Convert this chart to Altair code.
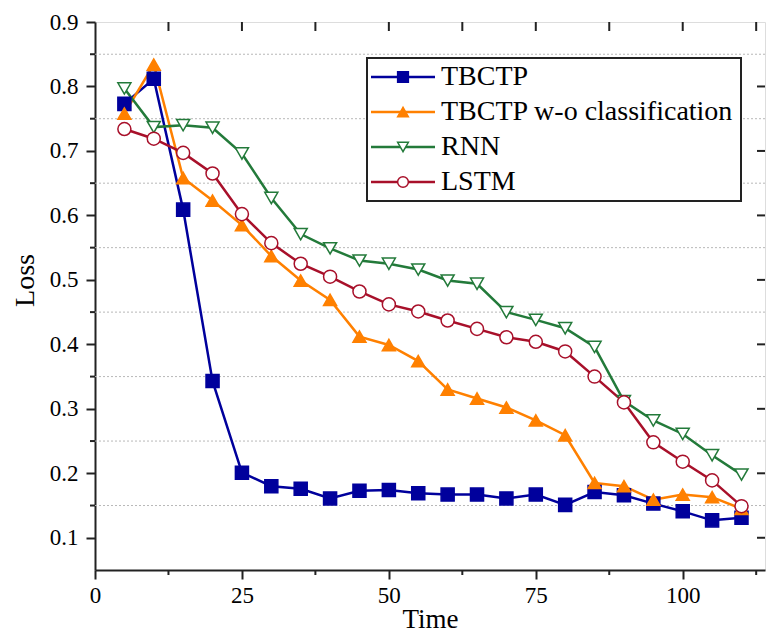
import altair as alt
import pandas as pd

models = ["TBCTP", "TBCTP w-o classification", "RNN", "LSTM"]
time = [5, 10, 15, 20, 25, 30, 35, 40, 45, 50, 55, 60, 65, 70, 75, 80, 85, 90, 95, 100, 105, 110]
tbctp = [0.773, 0.812, 0.609, 0.343, 0.201, 0.180, 0.176, 0.161, 0.173, 0.174, 0.169, 0.167,
         0.167, 0.161, 0.167, 0.151, 0.171, 0.166, 0.153, 0.141, 0.127, 0.131]
tbctp_wo = [0.758, 0.834, 0.658, 0.623, 0.585, 0.537, 0.499, 0.469, 0.412, 0.399, 0.374, 0.330,
            0.316, 0.302, 0.282, 0.259, 0.185, 0.180, 0.159, 0.167, 0.163, 0.145]
rnn = [0.797, 0.737, 0.740, 0.736, 0.696, 0.627, 0.571, 0.549, 0.530, 0.525, 0.516, 0.499,
       0.494, 0.450, 0.438, 0.425, 0.396, 0.312, 0.282, 0.261, 0.228, 0.198]
lstm = [0.734, 0.719, 0.697, 0.665, 0.602, 0.557, 0.525, 0.505, 0.482, 0.462, 0.451, 0.437,
        0.424, 0.411, 0.404, 0.389, 0.350, 0.310, 0.248, 0.218, 0.189, 0.149]

x_major = [0, 25, 50, 75, 100]
x_minor = [12.5, 37.5, 62.5, 87.5, 112.5]
x_top = [12.5, 25, 37.5, 50, 62.5, 75, 87.5, 100, 112.5]
y_major = [0.1, 0.2, 0.3, 0.4, 0.5, 0.6, 0.7, 0.8, 0.9]
y_minor = [0.15, 0.25, 0.35, 0.45, 0.55, 0.65, 0.75, 0.85]

colors = ["#00009C", "#FF8000", "#237A3A", "#A8102A"]
fills = ["#00009C", "#FF8000", "#FFFFFF", "#FFFFFF"]
shapes = ["square", "triangle-up", "triangle-down", "circle"]

FONT = "Liberation Serif"
W, H = 670, 548

rows = []
for m, vals in zip(models, [tbctp, tbctp_wo, rnn, lstm]):
    for t, v in zip(time, vals):
        rows.append({"Time": t, "Loss": v, "model": m})
df = pd.DataFrame(rows)

xscale = alt.Scale(domain=[0, 114], nice=False, zero=False)
yscale = alt.Scale(domain=[0.05, 0.9], nice=False, zero=False)
xaxis = alt.Axis(values=x_major, tickSize=9, tickWidth=2, tickColor="#222",
                 domainColor="#222", domainWidth=2, grid=False,
                 labelFont=FONT, labelFontSize=23, labelColor="#000", labelPadding=5,
                 labelFlush=False,
                 titleFont=FONT, titleFontSize=27, titleFontWeight="normal",
                 titleColor="#000", titleY=57, titleBaseline="alphabetic")
yaxis = alt.Axis(values=y_major, tickSize=9, tickWidth=2, tickColor="#222",
                 domainColor="#222", domainWidth=2, grid=False, format=".1f",
                 labelFont=FONT, labelFontSize=23, labelColor="#000", labelPadding=8,
                 labelFlush=False,
                 titleFont=FONT, titleFontSize=28, titleFontWeight="normal",
                 titleColor="#000", titleX=-62, titleY=258, titleAngle=270,
                 titleAlign="center", titleBaseline="alphabetic")


def X(field):
    return alt.X(field, scale=xscale, axis=xaxis, title="Time")


def Y(field):
    return alt.Y(field, scale=yscale, axis=yaxis, title="Loss")


color = alt.Color("model:N", scale=alt.Scale(domain=models, range=colors), legend=None)
stroke = alt.Stroke("model:N", scale=alt.Scale(domain=models, range=colors), legend=None)
fill = alt.Fill("model:N", scale=alt.Scale(domain=models, range=fills), legend=None)
shape = alt.Shape("model:N", scale=alt.Scale(domain=models, range=shapes), legend=None)

lines = alt.Chart(df).mark_line(strokeWidth=2.5).encode(
    x=X("Time:Q"), y=Y("Loss:Q"), color=color)

points = alt.Chart(df).mark_point(size=170, strokeWidth=1.5, opacity=1, fillOpacity=1).encode(
    x=X("Time:Q"), y=Y("Loss:Q"), stroke=stroke, fill=fill, shape=shape)

grid = alt.Chart(pd.DataFrame({"g": y_minor})).mark_rule(
    color="#b8b8b8", strokeDash=[2, 2], strokeWidth=1
).encode(y=Y("g:Q"))

left_minor = alt.Chart(pd.DataFrame({"g": y_minor})).mark_rule(color="#222", strokeWidth=2).encode(
    y=Y("g:Q"), x=alt.value(-5), x2=alt.value(0))
right_ticks = alt.Chart(pd.DataFrame({"g": y_major[:-1]})).mark_rule(color="#222", strokeWidth=2).encode(
    y=Y("g:Q"), x=alt.value(W - 8), x2=alt.value(W))
bottom_minor = alt.Chart(pd.DataFrame({"t": x_minor})).mark_rule(color="#222", strokeWidth=2).encode(
    x=X("t:Q"), y=alt.value(H), y2=alt.value(H + 5))
top_ticks = alt.Chart(pd.DataFrame({"t": x_top})).mark_rule(color="#222", strokeWidth=2).encode(
    x=X("t:Q"), y=alt.value(0), y2=alt.value(9))

main = alt.layer(grid, left_minor, right_ticks, bottom_minor, top_ticks, lines, points)

# legend
leg_df = pd.DataFrame({"model": models})
leg_y = alt.Y("model:N", sort=models,
              scale=alt.Scale(type="point", domain=models, range=[55, 160], padding=0),
              axis=None)
box = alt.Chart(pd.DataFrame({"k": [0]})).mark_rect(
    fill="white", stroke="#222", strokeWidth=2
).encode(x=alt.value(272), x2=alt.value(646), y=alt.value(36), y2=alt.value(179))
leg_lines = alt.Chart(leg_df).mark_rule(strokeWidth=2.5).encode(
    y=leg_y, x=alt.value(276), x2=alt.value(340), color=color)
leg_points = alt.Chart(leg_df).mark_point(size=115, strokeWidth=1.5, opacity=1, fillOpacity=1).encode(
    y=leg_y, x=alt.value(308), stroke=stroke, fill=fill, shape=shape)
leg_text = alt.Chart(leg_df).mark_text(
    align="left", baseline="middle", font=FONT, fontSize=28, color="#000"
).encode(y=leg_y, x=alt.value(346), text="model:N")
legend = alt.layer(box, leg_lines, leg_points, leg_text)

chart = alt.layer(main, legend).resolve_scale(y="independent").properties(
    width=W, height=H,
    autosize=alt.AutoSizeParams(type="none"),
    padding={"left": 95, "top": 22, "right": 1, "bottom": 62},
).configure_view(stroke="#222", strokeWidth=2).configure(background="white", font=FONT)

chart.save("out.html", embed_options={"renderer": "svg", "actions": False})
